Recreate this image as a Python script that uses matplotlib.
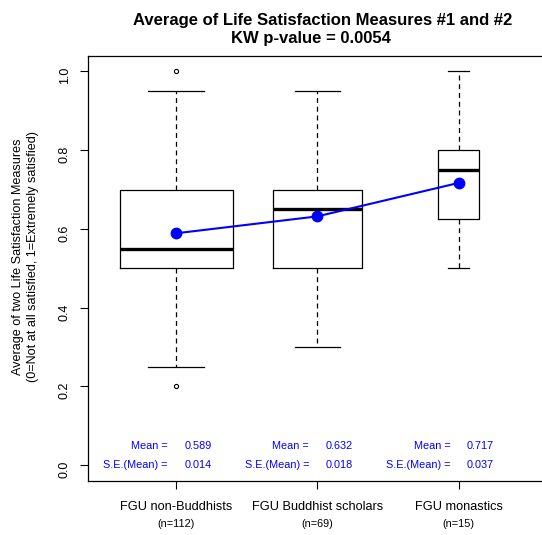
import numpy as np
import matplotlib
matplotlib.use("Agg")
import matplotlib.pyplot as plt

plt.rcParams['font.family'] = ['Liberation Sans', 'DejaVu Sans']

# summary values
groups = ['FGU non-Buddhists', 'FGU Buddhist scholars', 'FGU monastics']
n_obs = [112, 69, 15]
q1 = [0.50, 0.50, 0.625]
medians = [0.55, 0.65, 0.75]
q3 = [0.70, 0.70, 0.80]
whisk_lo = [0.25, 0.30, 0.50]
whisk_hi = [0.95, 0.95, 1.00]
outliers = [[1.0, 0.2], [], []]
means = [0.589, 0.632, 0.717]
se_means = [0.014, 0.018, 0.037]
yticks = [0.0, 0.2, 0.4, 0.6, 0.8, 1.0]

W, H = 542, 535
fig = plt.figure(figsize=(W / 100, H / 100), dpi=100)
# the right side of the plot frame runs past the image edge in the reference
ax = fig.add_axes([88.3 / W, 54 / H, (546.5 - 88.3) / W, (481 - 55.7) / H])

pos = np.arange(1, len(groups) + 1)
widths = 0.8 * np.sqrt(np.array(n_obs) / max(n_obs))  # varwidth boxes

stats = []
for i in range(len(groups)):
    stats.append(dict(med=medians[i], q1=q1[i], q3=q3[i],
                      whislo=whisk_lo[i], whishi=whisk_hi[i],
                      fliers=outliers[i], label=groups[i]))

ax.bxp(stats, positions=pos, widths=widths, capwidths=widths / 2,
       showfliers=True, patch_artist=False,
       boxprops=dict(color='black', lw=0.9),
       medianprops=dict(color='black', lw=2.4, solid_capstyle='butt'),
       whiskerprops=dict(color='black', lw=0.9, linestyle=(0, (4, 3))),
       capprops=dict(color='black', lw=0.9),
       flierprops=dict(marker='o', markersize=3, markerfacecolor='white',
                       markeredgecolor='black', markeredgewidth=0.8))

ax.plot(pos, means, color='blue', lw=1.5, marker='o', markersize=7.5,
        markerfacecolor='blue', markeredgecolor='blue', zorder=5)

for i, p in enumerate(pos):
    ax.text(p - 0.058, 0.05, 'Mean =', color='blue', fontsize=7.8,
            ha='right', va='center')
    ax.text(p + 0.058, 0.05, '%.3f' % means[i], color='blue', fontsize=7.8,
            ha='left', va='center')
    ax.text(p - 0.058, 0.0, 'S.E.(Mean) =', color='blue', fontsize=7.8,
            ha='right', va='center')
    ax.text(p + 0.058, 0.0, '%.3f' % se_means[i], color='blue', fontsize=7.8,
            ha='left', va='center')
    ax.annotate(groups[i], xy=(p, 0), xycoords=ax.get_xaxis_transform(),
                xytext=(0, -18.5), textcoords='offset points',
                ha='center', va='center', fontsize=9.2)
    ax.annotate('(n=%d)' % n_obs[i], xy=(p, 0),
                xycoords=ax.get_xaxis_transform(),
                xytext=(0, -31), textcoords='offset points',
                ha='center', va='center', fontsize=7.8)

ax.set_xlim(0.379, 3.621)
ax.set_ylim(-0.04, 1.04)
ax.set_xticks(pos)
ax.set_xticklabels([])
ax.set_yticks(yticks)
ax.set_yticklabels(['%.1f' % v for v in yticks])
ax.tick_params(axis='both', direction='out', length=5.5, width=0.8,
               color='black')
ax.tick_params(axis='y', labelrotation=90, labelsize=9, pad=7)
for s in ax.spines.values():
    s.set_color('black')
    s.set_linewidth(0.9)

fig.text(322.5 / W, 1 - 24.5 / H,
         'Average of Life Satisfaction Measures #1 and #2',
         ha='center', va='baseline', fontsize=12, fontweight='bold')
fig.text(310.5 / W, 1 - 43 / H, 'KW p-value = 0.0054',
         ha='center', va='baseline', fontsize=12, fontweight='bold')

fig.text(18 / W, 1 - 257 / H, 'Average of two Life Satisfaction Measures',
         rotation=90, ha='center', va='center', fontsize=9.1)
fig.text(33 / W, 1 - 256 / H,
         '(0=Not at all satisfied, 1=Extremely satisfied)',
         rotation=90, ha='center', va='center', fontsize=9.1)

fig.savefig('out.png', dpi=100)
